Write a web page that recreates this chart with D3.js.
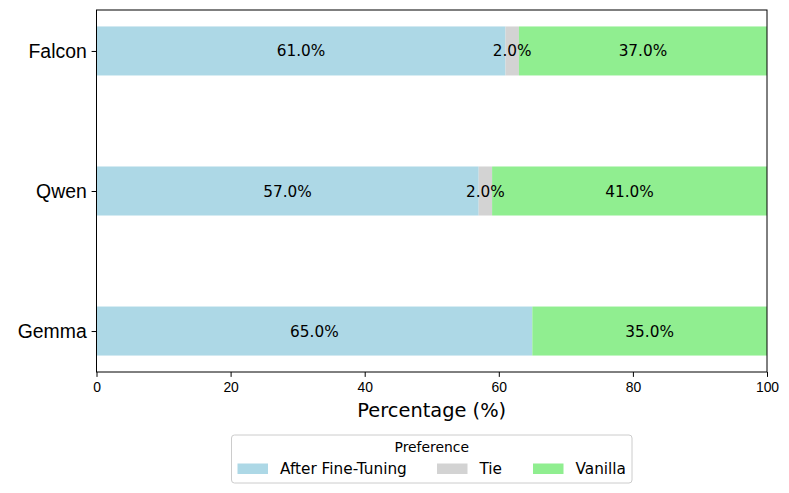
<!DOCTYPE html>
<html>
<head>
<meta charset="utf-8">
<script src="https://cdn.jsdelivr.net/npm/d3@7"></script>
<style>
  body { margin: 0; background: #fff; }
  svg { font-family: "DejaVu Sans", sans-serif; }
</style>
</head>
<body>
<div id="chart"></div>
<script>
// bottom to top, like matplotlib barh
const models = ["Gemma", "Qwen", "Falcon"]
const afterFineTuning = [65, 57, 61]
const tie = [0, 2, 2]
const vanilla = [35, 41, 37]
const xTicks = [0, 20, 40, 60, 80, 100]

const seriesNames = ["After Fine-Tuning", "Tie", "Vanilla"]
const seriesColors = ["#add8e6", "#d3d3d3", "#90ee90"]
const seriesValues = [afterFineTuning, tie, vanilla]

const W = 789, H = 493
const margin = { top: 10, right: 22, bottom: 121, left: 96.5 }
const width = W - margin.left - margin.right
const height = H - margin.top - margin.bottom
const barH = 0.35

const svg = d3.select("#chart").append("svg")
  .attr("width", W).attr("height", H)

const g = svg.append("g")
  .attr("transform", `translate(${margin.left},${margin.top})`)

const x = d3.scaleLinear().domain([0, 100]).range([0, width])
const y = d3.scaleLinear()
  .domain([-barH / 2 - 0.1175, models.length - 1 + barH / 2 + 0.1175])
  .range([height, 0])
const pxH = y(0) - y(barH)

// stacked segments
const segs = []
models.forEach((m, i) => {
  let start = 0
  seriesValues.forEach((vals, s) => {
    segs.push({ model: m, i, s, start, value: vals[i] })
    start += vals[i]
  })
})

g.selectAll("rect.seg")
  .data(segs.filter(d => d.value > 0))
  .join("rect")
  .attr("class", "seg")
  .attr("x", d => x(d.start))
  .attr("y", d => y(d.i) - pxH / 2)
  .attr("width", d => x(d.start + d.value) - x(d.start))
  .attr("height", pxH)
  .attr("fill", d => seriesColors[d.s])

g.selectAll("text.lbl")
  .data(segs.filter(d => d.value > 0))
  .join("text")
  .attr("class", "lbl")
  .attr("x", d => x(d.start + d.value / 2))
  .attr("y", d => y(d.i))
  .attr("dy", "0.36em")
  .attr("text-anchor", "middle")
  .style("font-size", "15.3px")
  .attr("fill", "#000")
  .text(d => d.value.toFixed(1) + "%")

// x axis
const xAxis = g.append("g")
  .attr("transform", `translate(0,${height})`)
  .call(d3.axisBottom(x).tickValues(xTicks).tickSize(4.9).tickPadding(4.9).tickFormat(d3.format("d")))
xAxis.selectAll("text").style("font-size", "13.9px").attr("fill", "#000")

// y axis
const yAxis = g.append("g")
  .call(d3.axisLeft(y).tickValues(d3.range(models.length)).tickSize(4.9).tickPadding(4.9)
    .tickFormat(i => models[i]))
yAxis.selectAll("text").style("font-size", "19.4px").attr("fill", "#000")

g.selectAll(".domain").remove()
g.selectAll(".tick line").attr("stroke", "#000").attr("stroke-width", 1)

// frame
g.append("rect")
  .attr("width", width).attr("height", height)
  .attr("fill", "none").attr("stroke", "#000").attr("stroke-width", 1)

// x label
g.append("text")
  .attr("x", width / 2)
  .attr("y", height + 45)
  .attr("text-anchor", "middle")
  .style("font-size", "19.4px")
  .text("Percentage (%)")

// legend
const legW = 400.5, legH = 48
const legX = margin.left + width / 2 - legW / 2
const legY = 435
const leg = svg.append("g").attr("transform", `translate(${legX},${legY})`)
leg.append("rect")
  .attr("width", legW).attr("height", legH).attr("rx", 3)
  .attr("fill", "#fff").attr("stroke", "#cccccc").attr("stroke-width", 1)
leg.append("text")
  .attr("x", legW / 2).attr("y", 17)
  .attr("text-anchor", "middle")
  .style("font-size", "13.9px")
  .text("Preference")

const itemX = [6, 205.5, 301.5]
seriesNames.forEach((name, s) => {
  leg.append("rect")
    .attr("x", itemX[s]).attr("y", 28.5)
    .attr("width", 30.5).attr("height", 10.5)
    .attr("fill", seriesColors[s])
  leg.append("text")
    .attr("x", itemX[s] + 42.5).attr("y", 33.5)
    .attr("dy", "0.36em")
    .style("font-size", "15.3px")
    .text(name)
})
</script>
</body>
</html>
